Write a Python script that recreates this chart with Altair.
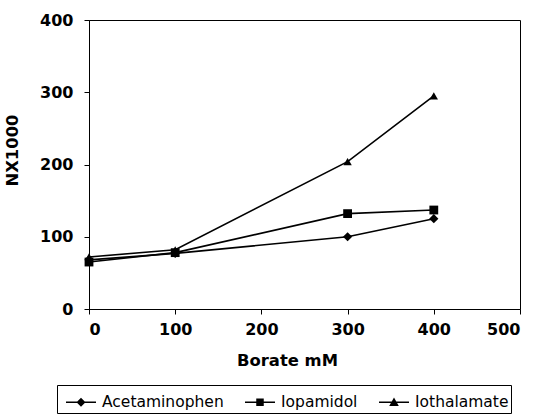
import altair as alt
import pandas as pd

borate = [0, 100, 300, 400]
series_names = ["Acetaminophen", "Iopamidol", "Iothalamate"]
acetaminophen = [68, 77, 100, 125]
iopamidol = [65, 78, 132, 137]
iothalamate = [72, 82, 204, 295]

rows = []
for name, vals in zip(series_names, [acetaminophen, iopamidol, iothalamate]):
    for b, v in zip(borate, vals):
        rows.append({"series": name, "borate": b, "value": v})
df = pd.DataFrame(rows)

FONT = "DejaVu Sans"

x = alt.X("borate:Q", scale=alt.Scale(domain=[0, 500], nice=False),
          axis=alt.Axis(title="Borate mM", values=[0, 100, 200, 300, 400, 500],
                        titleX=198, titleY=51, titleBaseline="middle"))
y = alt.Y("value:Q", scale=alt.Scale(domain=[0, 400], nice=False),
          axis=alt.Axis(title="NX1000", values=[0, 100, 200, 300, 400],
                        titleX=-77, titleY=130, titleBaseline="middle", titleAngle=270))

lines = alt.Chart(df).mark_line(color="black", strokeWidth=1.6).encode(
    x=x, y=y, detail="series:N")

points = alt.Chart(df).mark_point(filled=True, color="black", opacity=1).encode(
    x=x, y=y,
    shape=alt.Shape("series:N",
                    scale=alt.Scale(domain=series_names,
                                    range=["diamond", "square", "triangle-up"]),
                    legend=None),
    size=alt.Size("series:N",
                  scale=alt.Scale(domain=series_names, range=[85, 70, 95]),
                  legend=None),
)

leg_paths = [
    "M-1,-0.05H1V0.05H-1Z M0,-0.3L0.3,0L0,0.3L-0.3,0Z",
    "M-1,-0.05H1V0.05H-1Z M-0.25,-0.25H0.25V0.25H-0.25Z",
    "M-1,-0.05H1V0.05H-1Z M0,-0.32L0.32,0.25H-0.32Z",
]

legend_layer = alt.Chart(df).mark_point(filled=True, color="black", opacity=0).encode(
    x=x, y=y,
    shape=alt.Shape("series:N",
                    scale=alt.Scale(domain=series_names, range=leg_paths),
                    legend=alt.Legend(
                        title=None, orient="none", direction="horizontal",
                        legendX=-32, legendY=365, columns=3,
                        symbolSize=900, symbolOpacity=1, symbolOffset=7,
                        symbolFillColor="black", symbolStrokeColor="black",
                        symbolStrokeWidth=0, strokeColor="black",
                        padding=2, columnPadding=14, labelOffset=6,
                        labelFont=FONT, labelFontSize=15.5, labelColor="black",
                        labelLimit=300,
                    )),
)

chart = alt.layer(lines, points, legend_layer).resolve_scale(
    shape="independent", size="independent"
).properties(
    width=431, height=289,
    background="white",
    autosize=alt.AutoSizeParams(type="none"),
    padding={"left": 89, "top": 20, "right": 21, "bottom": 106},
).configure_view(
    stroke="black", strokeWidth=1
).configure_axis(
    grid=False, domainColor="black", domainWidth=1, tickColor="black",
    tickSize=5, tickWidth=1,
    labelFont=FONT, labelFontSize=16, labelFontWeight="bold", labelColor="black",
    titleFont=FONT, titleFontSize=16.4, titleFontWeight="bold", titleColor="black",
).configure_axisX(
    labelPadding=7
).configure_axisY(
    labelPadding=11
)

chart.save("out.html", embed_options={"renderer": "svg", "actions": False})
